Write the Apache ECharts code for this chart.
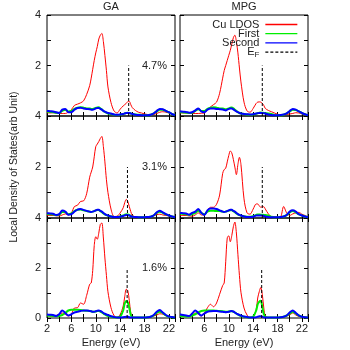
<!DOCTYPE html>
<html>
<head>
<meta charset="utf-8">
<script src="https://cdn.jsdelivr.net/npm/echarts@6/dist/echarts.min.js"></script>
<style>
  html, body { margin: 0; padding: 0; background: #fff; }
  #chart { width: 350px; height: 350px; }
</style>
</head>
<body>
<div id="chart"></div>
<script>
// energy grid (eV), finer near the d-band and the Fermi peak
var energy = [2, 2.5, 3, 3.5, 4, 4.5, 5, 5.5, 6, 6.5, 7, 7.5, 8, 8.5, 9,
  9.25, 9.5, 9.75, 10, 10.25, 10.5, 10.75, 11, 11.25, 11.5, 11.75, 12,
  12.5, 13, 13.5, 14, 14.5,
  14.75, 15, 15.25, 15.5, 15.75, 16,
  16.5, 17, 17.5, 18, 18.5, 19, 19.5, 20, 20.5, 21, 21.5, 22, 22.5, 23];

var columns = ['GA', 'MPG'];
var concentrations = ['4.7%', '3.1%', '1.6%'];
var seriesNames = ['Cu LDOS', 'First', 'Second', 'EF'];

// GA 4.7%
var gaRed47 = [0.13,0.12,0.13,0.12,0.10,0.10,0.10,0.15,0.25,0.42,0.47,0.52,0.60,0.85,1.2,
  1.5,1.85,2.2,2.5,2.75,3.05,3.2,3.27,2.95,2.4,1.8,1.15,
  0.53,0.2,0.12,0.27,0.4,
  0.45,0.5,0.57,0.58,0.45,0.33,
  0.22,0.15,0.12,0.08,0.06,0.05,0.06,0.1,0.15,0.17,0.15,0.12,0.08,0.03];
var gaGreen47 = [0.17,0.16,0.15,0.13,0.12,0.2,0.25,0.18,0.2,0.28,0.33,0.35,0.33,0.3,0.3,
  0.28,0.28,0.3,0.32,0.34,0.35,0.3,0.26,0.2,0.16,0.13,0.1,
  0.08,0.05,0.04,0.05,0.08,
  0.1,0.12,0.13,0.12,0.1,0.08,
  0.06,0.05,0.04,0.03,0.03,0.05,0.1,0.18,0.25,0.25,0.2,0.14,0.08,0.03];
var gaBlue47 = [0.2,0.19,0.18,0.15,0.12,0.25,0.28,0.15,0.15,0.25,0.32,0.33,0.3,0.28,0.27,
  0.25,0.25,0.27,0.3,0.32,0.32,0.28,0.25,0.2,0.17,0.14,0.12,
  0.1,0.06,0.05,0.06,0.08,
  0.1,0.12,0.12,0.12,0.1,0.08,
  0.05,0.04,0.03,0.03,0.03,0.05,0.1,0.2,0.28,0.27,0.2,0.15,0.08,0.03];

// MPG 4.7%
var mpgRed47 = [0.13,0.12,0.12,0.11,0.10,0.10,0.10,0.11,0.12,0.25,0.36,0.45,0.55,0.9,1.5,
  1.8,2.0,2.2,2.4,2.6,2.85,3.1,3.2,2.95,2.5,1.9,1.35,
  0.55,0.2,0.15,0.3,0.5,
  0.55,0.56,0.55,0.5,0.42,0.3,
  0.22,0.17,0.12,0.07,0.05,0.05,0.06,0.08,0.1,0.13,0.12,0.08,0.05,0.02];
var mpgGreen47 = [0.15,0.14,0.13,0.12,0.13,0.2,0.27,0.2,0.2,0.28,0.33,0.35,0.33,0.3,0.3,
  0.28,0.27,0.28,0.3,0.33,0.34,0.3,0.25,0.2,0.15,0.12,0.1,
  0.08,0.06,0.05,0.06,0.09,
  0.11,0.13,0.14,0.13,0.12,0.11,
  0.1,0.08,0.04,0.03,0.03,0.05,0.1,0.18,0.25,0.24,0.18,0.12,0.07,0.03];
var mpgBlue47 = [0.18,0.17,0.16,0.13,0.15,0.22,0.3,0.18,0.15,0.25,0.3,0.3,0.28,0.27,0.26,
  0.24,0.22,0.25,0.28,0.3,0.3,0.26,0.22,0.18,0.15,0.12,0.1,
  0.08,0.07,0.06,0.07,0.1,
  0.11,0.12,0.12,0.12,0.11,0.1,
  0.06,0.04,0.03,0.03,0.04,0.06,0.1,0.2,0.28,0.25,0.18,0.12,0.07,0.03];

// GA 3.1%
var gaRed31 = [0.1,0.1,0.1,0.09,0.08,0.12,0.16,0.12,0.2,0.45,0.5,0.65,0.67,0.95,1.6,
  1.8,2.0,2.4,2.8,2.9,3.0,3.12,3.2,2.8,2.2,1.5,1.0,
  0.35,0.06,0.07,0.2,0.4,
  0.6,0.73,0.65,0.45,0.25,0.1,
  0.05,0.03,0.02,0.02,0.04,0.06,0.1,0.13,0.15,0.12,0.1,0.08,0.05,0.02];
var gaGreen31 = [0.16,0.15,0.14,0.11,0.13,0.24,0.23,0.15,0.18,0.27,0.32,0.33,0.3,0.27,0.25,
  0.24,0.25,0.27,0.3,0.31,0.31,0.27,0.23,0.18,0.14,0.11,0.09,
  0.06,0.04,0.04,0.06,0.1,
  0.13,0.15,0.14,0.12,0.08,0.05,
  0.04,0.03,0.03,0.03,0.04,0.05,0.1,0.2,0.25,0.2,0.14,0.1,0.06,0.03];
var gaBlue31 = [0.19,0.18,0.17,0.12,0.15,0.29,0.25,0.13,0.15,0.25,0.33,0.35,0.32,0.28,0.25,
  0.24,0.25,0.27,0.3,0.32,0.32,0.28,0.25,0.2,0.15,0.12,0.1,
  0.06,0.04,0.04,0.05,0.08,
  0.1,0.12,0.11,0.1,0.07,0.05,
  0.04,0.03,0.03,0.03,0.04,0.05,0.1,0.22,0.28,0.22,0.15,0.1,0.06,0.03];

// MPG 3.1%
var mpgRed31 = [0.1,0.1,0.1,0.08,0.07,0.12,0.2,0.12,0.12,0.29,0.42,0.42,0.54,0.9,1.75,
  1.9,1.95,2.2,2.45,2.63,2.55,2.3,2.0,1.7,2.1,2.38,2.1,
  0.75,0.2,0.15,0.35,0.55,
  0.55,0.48,0.42,0.44,0.44,0.35,
  0.16,0.05,0.04,0.04,0.05,0.45,0.2,0.1,0.16,0.2,0.22,0.15,0.1,0.03];
var mpgGreen31 = [0.17,0.16,0.15,0.12,0.15,0.2,0.28,0.2,0.15,0.25,0.28,0.28,0.27,0.27,0.25,
  0.24,0.25,0.27,0.29,0.3,0.3,0.27,0.23,0.18,0.14,0.11,0.09,
  0.07,0.05,0.05,0.07,0.12,
  0.14,0.14,0.13,0.13,0.12,0.12,
  0.1,0.05,0.03,0.03,0.04,0.06,0.11,0.22,0.27,0.22,0.14,0.1,0.06,0.03];
var mpgBlue31 = [0.2,0.19,0.18,0.13,0.2,0.25,0.35,0.2,0.12,0.3,0.37,0.37,0.35,0.3,0.25,
  0.24,0.25,0.27,0.3,0.32,0.32,0.28,0.25,0.2,0.15,0.12,0.1,
  0.06,0.04,0.04,0.05,0.1,
  0.1,0.1,0.1,0.1,0.08,0.06,
  0.04,0.03,0.03,0.03,0.04,0.06,0.12,0.25,0.3,0.25,0.15,0.1,0.06,0.03];

// GA 1.6%
var gaRed16 = [0.1,0.08,0.06,0.1,0.15,0.2,0.15,0.08,0.15,0.4,0.41,0.6,0.55,0.9,1.35,
  1.4,1.9,2.9,3.25,3.15,3.4,3.75,3.8,3.2,2.4,1.7,1.05,
  0.41,0.1,0.03,0.14,0.48,
  0.85,1.15,1.1,0.7,0.2,0.04,
  0.02,0.02,0.02,0.02,0.02,0.04,0.08,0.12,0.17,0.15,0.1,0.06,0.04,0.02];
var gaGreen16 = [0.1,0.09,0.08,0.07,0.08,0.12,0.2,0.3,0.33,0.33,0.33,0.32,0.3,0.29,0.28,
  0.27,0.25,0.25,0.26,0.28,0.28,0.26,0.22,0.18,0.14,0.11,0.08,
  0.05,0.03,0.02,0.05,0.3,
  0.58,0.68,0.62,0.4,0.12,0.03,
  0.02,0.02,0.02,0.02,0.03,0.05,0.1,0.2,0.25,0.2,0.1,0.05,0.03,0.02];
var gaBlue16 = [0.14,0.13,0.12,0.08,0.15,0.3,0.2,0.1,0.15,0.22,0.25,0.28,0.3,0.3,0.28,
  0.27,0.25,0.25,0.27,0.29,0.3,0.28,0.25,0.2,0.17,0.14,0.12,
  0.07,0.04,0.02,0.02,0.03,
  0.04,0.05,0.05,0.03,0.02,0.02,
  0.02,0.02,0.02,0.02,0.03,0.05,0.12,0.25,0.32,0.22,0.12,0.06,0.04,0.02];

// MPG 1.6%
var mpgRed16 = [0.1,0.09,0.08,0.06,0.12,0.2,0.16,0.08,0.2,0.41,0.55,0.45,0.6,0.95,1.3,
  1.4,2.25,3.2,3.29,3.05,3.3,3.65,3.84,3.4,2.55,1.7,1.03,
  0.4,0.12,0.03,0.05,0.34,
  0.8,1.05,1.22,0.95,0.4,0.07,
  0.02,0.02,0.02,0.02,0.02,0.04,0.08,0.12,0.2,0.12,0.06,0.04,0.03,0.02];
var mpgGreen16 = [0.08,0.07,0.06,0.06,0.1,0.15,0.22,0.28,0.3,0.3,0.3,0.3,0.29,0.28,0.27,
  0.26,0.25,0.25,0.26,0.27,0.27,0.25,0.22,0.18,0.14,0.11,0.08,
  0.05,0.03,0.02,0.05,0.3,
  0.55,0.65,0.69,0.45,0.15,0.05,
  0.02,0.02,0.02,0.02,0.03,0.05,0.1,0.18,0.25,0.18,0.1,0.05,0.03,0.02];
var mpgBlue16 = [0.14,0.12,0.1,0.08,0.18,0.3,0.2,0.1,0.18,0.25,0.27,0.28,0.28,0.26,0.25,
  0.24,0.23,0.24,0.25,0.27,0.28,0.26,0.22,0.18,0.15,0.12,0.1,
  0.06,0.04,0.02,0.02,0.03,
  0.05,0.07,0.07,0.05,0.03,0.02,
  0.02,0.02,0.02,0.02,0.03,0.05,0.1,0.22,0.3,0.2,0.1,0.05,0.03,0.02];

// Fermi energies per panel (rows 4.7, 3.1, 1.6)
var efGA = [15.4, 15.2, 15.15];
var efMPG = [15.5, 15.5, 15.4];
var efTop = 2;

var panels = [
  [gaRed47, gaGreen47, gaBlue47, efGA[0]], [mpgRed47, mpgGreen47, mpgBlue47, efMPG[0]],
  [gaRed31, gaGreen31, gaBlue31, efGA[1]], [mpgRed31, mpgGreen31, mpgBlue31, efMPG[1]],
  [gaRed16, gaGreen16, gaBlue16, efGA[2]], [mpgRed16, mpgGreen16, mpgBlue16, efMPG[2]]
];

var FONT = 'Liberation Sans';
var colLeft = [47, 180];
var colWidth = 128;
var rowTop = [15, 116, 218];
var rowHeight = [101, 102, 100];
var colors = ['#ff0000', '#00ee00', '#0000ff', '#000'];

function pair(arr) {
  return energy.map(function (x, i) { return [x, arr[i]]; });
}

var grid = [], xAxis = [], yAxis = [], series = [];
panels.forEach(function (p, g) {
  var row = Math.floor(g / 2), col = g % 2;
  var bottom = row === 2;
  grid.push({
    left: colLeft[col], top: rowTop[row], width: colWidth, height: rowHeight[row],
    show: true, borderColor: '#000', borderWidth: 1, backgroundColor: 'transparent'
  });
  var tick = { show: true, inside: true, length: 4, lineStyle: { color: '#000' } };
  xAxis.push({
    type: 'value', gridIndex: g, min: 2, max: 23, interval: 2,
    axisLine: { show: false }, axisTick: tick, splitLine: { show: false },
    axisLabel: {
      show: bottom, margin: 5, fontFamily: FONT, fontSize: 11, color: '#222',
      formatter: function (v) {
        if ((v - 2) % 4 !== 0) return '';
        if (col === 1 && v === 2) return '';
        return v;
      }
    },
    name: bottom ? 'Energy (eV)' : '', nameLocation: 'middle', nameGap: 19,
    nameTextStyle: { fontFamily: FONT, fontSize: 11, color: '#222' }
  });
  xAxis.push({
    type: 'value', gridIndex: g, min: 2, max: 23, interval: 2, position: 'top',
    axisLine: { show: false }, axisTick: tick, splitLine: { show: false },
    axisLabel: { show: false }
  });
  yAxis.push({
    type: 'value', gridIndex: g, min: 0, max: 4, interval: 1,
    axisLine: { show: false }, axisTick: tick, splitLine: { show: false },
    axisLabel: {
      show: col === 0, margin: 6, fontFamily: FONT, fontSize: 11, color: '#222',
      formatter: function (v) {
        if (v % 2 !== 0) return '';
        if (v === 0 && !bottom) return '';
        return v;
      }
    }
  });
  yAxis.push({
    type: 'value', gridIndex: g, min: 0, max: 4, interval: 1, position: 'right',
    axisLine: { show: false }, axisTick: tick, splitLine: { show: false },
    axisLabel: { show: false }
  });
  var widths = [1, 2, 2];
  for (var k = 0; k < 3; k++) {
    series.push({
      name: seriesNames[k], type: 'line', xAxisIndex: 2 * g, yAxisIndex: 2 * g,
      data: pair(p[k]), symbol: 'none', smooth: 0.3,
      lineStyle: { color: colors[k], width: widths[k] },
      itemStyle: { color: colors[k] }
    });
  }
  series.push({
    name: seriesNames[3], type: 'line', xAxisIndex: 2 * g, yAxisIndex: 2 * g,
    data: [[p[3], 0], [p[3], efTop]], symbol: 'none',
    lineStyle: { color: '#000', width: 1, type: [3, 2] },
    itemStyle: { color: '#000' }
  });
});

var graphic = [{
  type: 'text', x: 14, y: 167, rotation: Math.PI / 2,
  style: {
    text: 'Local Density of States(arb Unit)', fontFamily: FONT, fontSize: 10.5,
    fill: '#222', align: 'center', verticalAlign: 'middle'
  }
}];
concentrations.forEach(function (c, r) {
  graphic.push({
    type: 'text', x: 167, y: rowTop[r] + rowHeight[r] / 2,
    style: { text: c, fontFamily: FONT, fontSize: 11, fill: '#222', align: 'right', verticalAlign: 'middle' }
  });
});

var chart = echarts.init(document.getElementById('chart'), null, { renderer: 'canvas' });
chart.setOption({
  animation: false,
  backgroundColor: '#fff',
  title: columns.map(function (c, i) {
    return {
      text: c, left: colLeft[i] + colWidth / 2, top: 1, padding: 0, textAlign: 'center',
      textStyle: { fontFamily: FONT, fontSize: 11, fontWeight: 'normal', color: '#222' }
    };
  }),
  legend: {
    data: seriesNames, orient: 'vertical', right: 52, top: 19, align: 'right',
    itemWidth: 32, itemHeight: 8, itemGap: -1.8, padding: 0,
    itemStyle: { opacity: 0 },
    lineStyle: { width: 1.3 },
    textStyle: {
      fontFamily: FONT, fontSize: 11, color: '#222', padding: [0, 1, 0, 0],
      rich: {
        n: { fontFamily: FONT, fontSize: 11, color: '#222' },
        s: { fontFamily: FONT, fontSize: 8, color: '#222', padding: [6, 0, 0, 0] }
      }
    },
    formatter: function (n) { return n === 'EF' ? '{n|E}{s|F}' : n; }
  },
  grid: grid, xAxis: xAxis, yAxis: yAxis, series: series, graphic: graphic
});
</script>
</body>
</html>
